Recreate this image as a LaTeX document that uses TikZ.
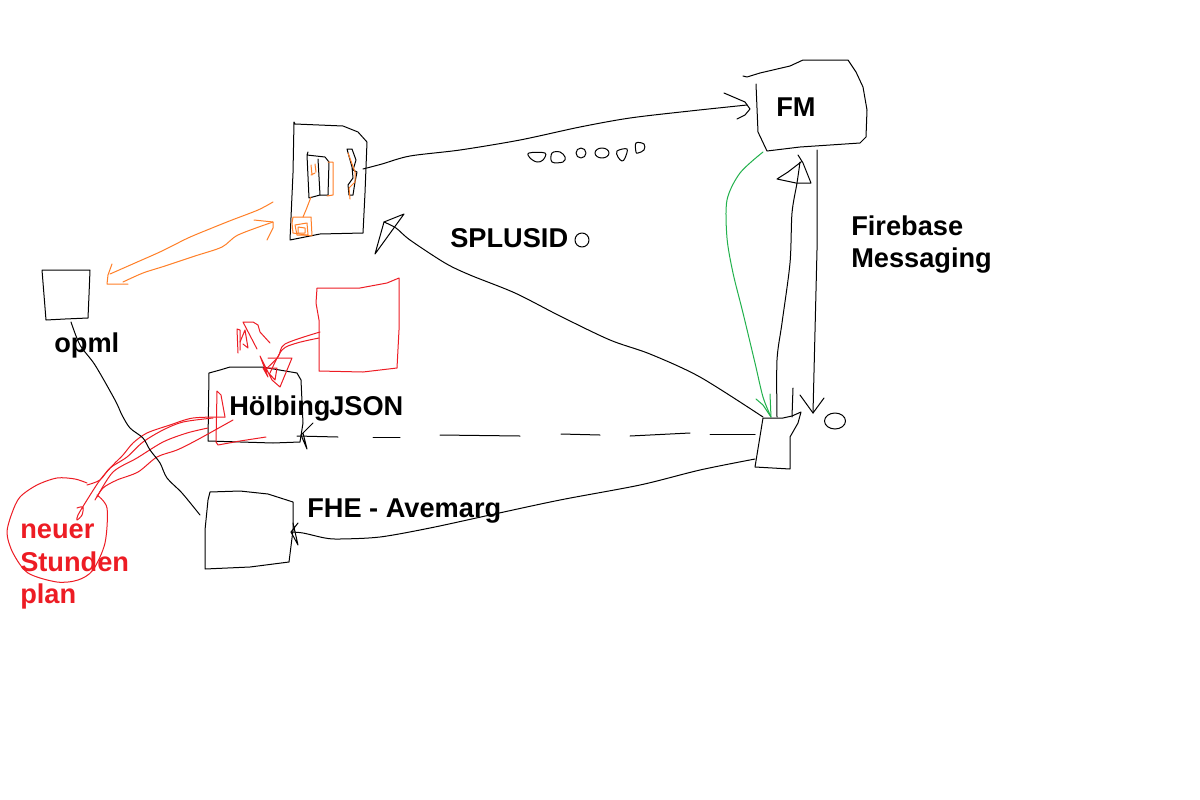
\documentclass[tikz,border=0pt]{standalone}
\usepackage{fontspec}
\setmainfont{Liberation Sans}
\definecolor{pred}{RGB}{237,28,36}
\definecolor{porange}{RGB}{255,127,39}
\definecolor{pgreen}{RGB}{34,177,76}
\tikzset{
  ink/.style={draw=black,line width=0.75pt,line join=round,line cap=round},
  redink/.style={draw=pred,line width=0.75pt,line join=round,line cap=round},
  orangeink/.style={draw=porange,line width=0.75pt,line join=round,line cap=round},
  greenink/.style={draw=pgreen,line width=0.75pt,line join=round,line cap=round},
  lbl/.style={inner sep=0pt,anchor=base west,font=\fontsize{20.4pt}{24pt}\selectfont\bfseries,text=black},
  redlbl/.style={lbl,text=pred}
}
\newcommand\cv[2][ink]{\draw[#1] plot[smooth,tension=0.5] coordinates {#2};}
\newcommand\blob[1]{\draw[ink] plot[smooth cycle,tension=0.6] coordinates {#1};}
\begin{document}
\begin{tikzpicture}[x=0.75pt,y=-0.75pt]
\useasboundingbox (0,0) rectangle (1200,800);
\fill[white] (0,0) rectangle (1200,800);
% device
\draw[ink] (294,122)--(295,124)--(343,126)--(358,132)--(367,142)--(365,193)--(363,233)--(320,234)--(290,240)--(293,173)--(294,122);
\draw[ink] (308,152)--(307,155)--(325,157)--(329,162)--(328,195)--(320,195)--(309,198)--(307,155);
\draw[ink] (318,159)--(320,195);
\draw[ink] (347,149)--(352,149)--(356,160)--(353,170)--(357,172)--(355,182)--(353,195)--(349,195)--(348,185)--(353,178)--(352,167)--(347,149);
\draw[orangeink] (328,162)--(333,162)--(333,195)--(327,196);
\draw[orangeink] (311,165)--(312,175) (315,164)--(316,172) (311,175)--(315,173);
\draw[orangeink] (348,153)--(355,172)--(355,182)--(349,188)--(350,199);
\draw[orangeink] (311,197)--(306,210)--(303,217);
\draw[orangeink] (293,217)--(311,217)--(312,236)--(293,233)--(292,223)--(293,217);
\draw[orangeink] (295,225)--(307,223)--(308,235)--(297,235)--(295,225) (298,227)--(305,228)--(305,233)--(298,233)--(298,227);
% device -> FM
\coordinate (devout) at (363,169);
\cv{(devout) (382,164) (410,156) (460,150) (520,140) (580,127) (630,118) (690,111) (747,105)}
\draw[ink] (724,93)--(745,102)--(750,109)--(745,115)--(737,119);
% beads
\blob{(529,153) (545,153) (543,160) (537,162) (530,158)}
\blob{(552,153) (560,152) (565,157) (563,162) (552,162)}
\draw[ink] (581,153) circle[radius=5];
\draw[ink] (602,153) ellipse[x radius=7,y radius=5];
\blob{(617,151) (627,149) (625,158) (622,161) (618,157)}
\blob{(636,143) (644,144) (644,150) (638,153) (636,152)}
\draw[ink] (582,240) circle[radius=7];
% FM box
\draw[ink] (743,76)--(747,77)--(760,73)--(790,66)--(803,60)--(848,60)--(856,72)--(863,87)--(867,110)--(866,137)--(860,143)--(800,147)--(767,151)--(758,132)--(756,84);
% green
\cv[greenink]{(763,152) (740,173) (727,200) (727,238) (733,273) (743,313) (755,363) (763,397) (771,417)}
\draw[greenink] (756,399)--(763,405)--(771,417)--(770,394);
% FM <-> bottom
\cv{(777,417) (777,360) (782,323) (790,263) (792,213) (797,183) (800,162)}
\draw[ink] (798,155)--(803,163)--(811,183)--(796,183)--(777,179)--(788,172)--(801,162);
\draw[ink] (817,150)--(817,250)--(813,413);
\draw[ink] (800,395)--(813,413)--(824,398);
\draw[ink] (793,388)--(792,417);
\draw[ink] (835,421) ellipse[x radius=10.5,y radius=8];
% bottom box
\draw[ink] (763,418)--(783,418)--(792,416)--(801,412)--(798,423)--(790,437)--(790,469)--(755,467)--(763,418);
% back to device
\cv{(763,417) (700,377) (650,354) (610,340) (560,316) (515,293) (470,275) (445,263) (410,240) (396,228) (384,222)}
\draw[ink] (404,214)--(384,222)--(375,254)--(404,214);
% dashes
\draw[ink] (755,434)--(710,434);
\draw[ink] (690,433)--(650,435)--(630,436);
\draw[ink] (600,435)--(561,434);
\draw[ink] (520,436)--(440,435);
\draw[ink] (400,437)--(373,437);
\draw[ink] (338,437)--(297,436);
\draw[ink] (313,423)--(301,435)--(307,449)--(303,433);
% Hölbing box
\draw[ink] (209,373)--(220,370)--(230,367)--(262,367)--(297,373)--(301,380)--(303,423)--(300,442)--(273,443)--(208,441)--(209,373);
% JSON red box
\draw[redink] (317,288)--(360,288)--(387,283)--(399,278)--(399,330)--(397,368)--(363,372)--(319,371)--(319,320)--(316,303)--(317,288);
\cv[redink]{(320,332) (285,344) (278,357) (265,370)}
\cv[redink]{(319,338) (297,343) (282,350) (270,373)}
\draw[redink] (268,358)--(292,358)--(280,387)--(272,380)--(260,356)--(268,377)--(263,368)--(277,368)--(275,380)--(266,370);
% scribble
\draw[redink] (238,353)--(237,329)--(240,330)--(240,350);
\draw[redink] (240,342)--(245,330)--(248,348)--(243,344);
\draw[redink] (257,349)--(243,322)--(253,322)--(258,325)--(260,332)--(270,343);
% red in Hölbing
\draw[redink] (225,417)--(221,395)--(217,391)--(216,442)--(218,445)--(240,441)--(266,437);
% red strokes to circle
\cv[redink]{(225,417) (193,418) (170,425) (147,433) (133,443) (123,455) (113,465) (100,480) (87,500) (78,515) (77,520) (82,515) (83,507) (77,508)}
\cv[redink]{(213,418) (183,422) (163,430) (143,442) (127,457) (110,468) (100,480) (87,485)}
\cv[redink]{(208,428) (187,433) (163,442) (137,458) (113,472) (97,497)}
\cv[redink]{(233,420) (197,440) (177,450) (157,457) (138,472) (117,480) (103,488) (95,500)}
% red circle
\cv[redink]{(87,483) (75,479) (57,478) (37,485) (20,497) (12,513) (7,533) (13,553) (28,573) (57,582) (78,580) (93,570) (105,543) (107,508) (97,495)}
% black long opml connector
\cv{(71,322) (80,345) (95,365) (115,400) (122,415) (130,428) (143,438) (150,450) (160,463) (167,478) (182,493) (200,515)}
% opml box
\draw[ink] (42,270)--(90,270)--(89,295)--(88,318)--(65,319)--(46,320)--(42,270);
% orange double arrow
\cv[orangeink]{(273,202) (258,210) (232,220) (212,228) (188,238) (162,251) (135,263) (110,274)}
\cv[orangeink]{(123,282) (143,273) (165,266) (195,256) (222,247) (238,235) (273,222)}
\draw[orangeink] (112,264)--(108,275)--(107,284)--(128,284);
\draw[orangeink] (254,220)--(273,222)--(273,228)--(267,240);
% FHE box
\draw[ink] (210,492)--(240,491)--(268,494)--(293,502)--(293,530)--(289,562)--(250,567)--(205,569)--(205,530)--(208,500)--(210,492);
% FHE arrow
\cv{(755,459) (700,470) (640,485) (560,500) (490,515) (430,528) (380,537) (340,539) (325,538) (303,533) (291,532)}
\draw[ink] (298,523)--(291,532)--(298,545)--(293,523);
% labels
\node[lbl] (fm) at (776,116) {FM};
\node[lbl] (fb1) at (851,235) {Firebase};
\node[lbl] (fb2) at (851,267) {Messaging};
\node[lbl] (splus) at (450,247) {SPLUSID};
\node[lbl] (opml) at (54,352) {opml};
\node[lbl] (hoel) at (229,415) {Hölbing};
\node[lbl] (json) at (329,415) {JSON};
\node[lbl] (fhe) at (307,517) {FHE - Avemarg};
\node[redlbl] (n1) at (20,538) {neuer};
\node[redlbl] (n2) at (20,571) {Stunden};
\node[redlbl] (n3) at (20,603) {plan};
\end{tikzpicture}
\end{document}
